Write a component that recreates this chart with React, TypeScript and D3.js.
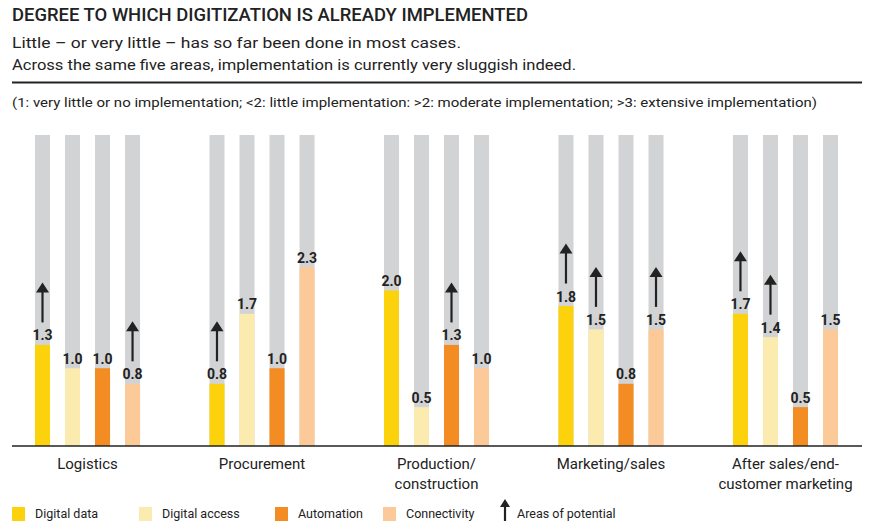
import React from "react";
import * as d3 from "d3";

const categoryLines: string[][] = [
  ["Logistics"],
  ["Procurement"],
  ["Production/", "construction"],
  ["Marketing/sales"],
  ["After sales/end-", "customer marketing"],
];
const seriesNames = ["Digital data", "Digital access", "Automation", "Connectivity"];
const digitalData = [1.3, 0.8, 2.0, 1.8, 1.7];
const digitalAccess = [1.0, 1.7, 0.5, 1.5, 1.4];
const automation = [1.0, 1.0, 1.3, 0.8, 0.5];
const connectivity = [0.8, 2.3, 1.0, 1.5, 1.5];
const digitalDataPotential = [true, true, false, true, true];
const digitalAccessPotential = [false, false, false, true, true];
const automationPotential = [false, false, true, false, false];
const connectivityPotential = [true, false, false, true, false];
const maxScore = 4;

const title = "DEGREE TO WHICH DIGITIZATION IS ALREADY IMPLEMENTED";
const subtitle1 = "Little \u2013 or very little \u2013 has so far been done in most cases.";
const subtitle2 = "Across the same five areas, implementation is currently very sluggish indeed.";
const note =
  "(1: very little or no implementation; <2: little implementation: >2: moderate implementation; >3: extensive implementation)";
const potentialLabel = "Areas of potential";

const colors = ["#FBD20B", "#FCEBAE", "#F28C23", "#FBCA98"];
const trackColor = "#D2D3D5";
const ink = "#222222";
const font = "Roboto, 'Open Sans', sans-serif";

const W = 884;
const H = 532;

const seriesValues = [digitalData, digitalAccess, automation, connectivity];
const seriesPotential = [
  digitalDataPotential,
  digitalAccessPotential,
  automationPotential,
  connectivityPotential,
];

const Arrow = ({ x, bottom, len, headW, headH }: any) => (
  <g>
    <line x1={x} x2={x} y1={bottom} y2={bottom - len + headH - 1} stroke={ink} strokeWidth={2.2} />
    <polygon
      points={`${x - headW / 2},${bottom - len + headH} ${x + headW / 2},${bottom - len + headH} ${x},${bottom - len}`}
      fill={ink}
    />
  </g>
);

export default function App() {
  const catIdx = categoryLines.map((_, i) => String(i));
  const x0 = d3.scaleBand<string>().domain(catIdx).range([35, 838]).paddingInner(0.398).paddingOuter(0);
  const x1 = d3.scaleBand<string>().domain(seriesNames).range([0, x0.bandwidth()]).paddingInner(0.5).paddingOuter(0);
  const y = d3.scaleLinear().domain([0, maxScore]).range([446, 135]);

  const legendX = [12, 139, 275, 383];
  const legendArrowX = 505;

  return (
    <svg
      width={W}
      height={H}
      style={{ position: "absolute", left: 0, top: 0, background: "#fff" }}
      fontFamily={font}
    >
      <rect x={0} y={0} width={W} height={H} fill="#fff" />
      <text x={12} y={21} fontSize={18} fontWeight={500} fill={ink} textLength={516} lengthAdjust="spacingAndGlyphs">
        {title}
      </text>
      <text x={12} y={48} fontSize={15} fill={ink} textLength={449} lengthAdjust="spacingAndGlyphs">
        {subtitle1}
      </text>
      <text x={12} y={70} fontSize={15} fill={ink} textLength={564} lengthAdjust="spacingAndGlyphs">
        {subtitle2}
      </text>
      <line x1={12} x2={862} y1={82.5} y2={82.5} stroke={ink} strokeWidth={2} />
      <text x={12} y={107} fontSize={13} fill={ink} textLength={805} lengthAdjust="spacingAndGlyphs">
        {note}
      </text>

      {catIdx.map((c, ci) => (
        <g key={c} transform={`translate(${x0(c)},0)`}>
          {seriesNames.map((s, si) => {
            const v = seriesValues[si][ci];
            const bx = x1(s)!;
            const bw = x1.bandwidth();
            const cx = bx + bw / 2;
            const top = y(v);
            const base = top - 4.5;
            return (
              <g key={s}>
                <rect x={bx} y={y(maxScore)} width={bw} height={y(0) - y(maxScore)} fill={trackColor} />
                <rect x={bx} y={top} width={bw} height={y(0) - top} fill={colors[si]} />
                <text x={cx} y={base} textAnchor="middle" fontSize={14} fontWeight={700} fill={ink}>
                  {v.toFixed(1)}
                </text>
                {seriesPotential[si][ci] && <Arrow x={cx} bottom={base - 18} len={40} headW={13} headH={10} />}
              </g>
            );
          })}
          {categoryLines[ci].map((ln, li) => (
            <text
              key={li}
              x={x0.bandwidth() / 2}
              y={469 + li * 19.5}
              textAnchor="middle"
              fontSize={15}
              fill={ink}
            >
              {ln}
            </text>
          ))}
        </g>
      ))}

      <line x1={12} x2={862} y1={446} y2={446} stroke={ink} strokeWidth={1.5} />

      {seriesNames.map((s, si) => (
        <g key={s}>
          <rect x={legendX[si]} y={507} width={13} height={14} fill={colors[si]} />
          <text x={legendX[si] + 23} y={518} fontSize={12.5} fill={ink}>
            {s}
          </text>
        </g>
      ))}
      <Arrow x={legendArrowX} bottom={521} len={22} headW={10} headH={8} />
      <text x={legendArrowX + 12} y={518} fontSize={12.5} fill={ink}>
        {potentialLabel}
      </text>
    </svg>
  );
}
